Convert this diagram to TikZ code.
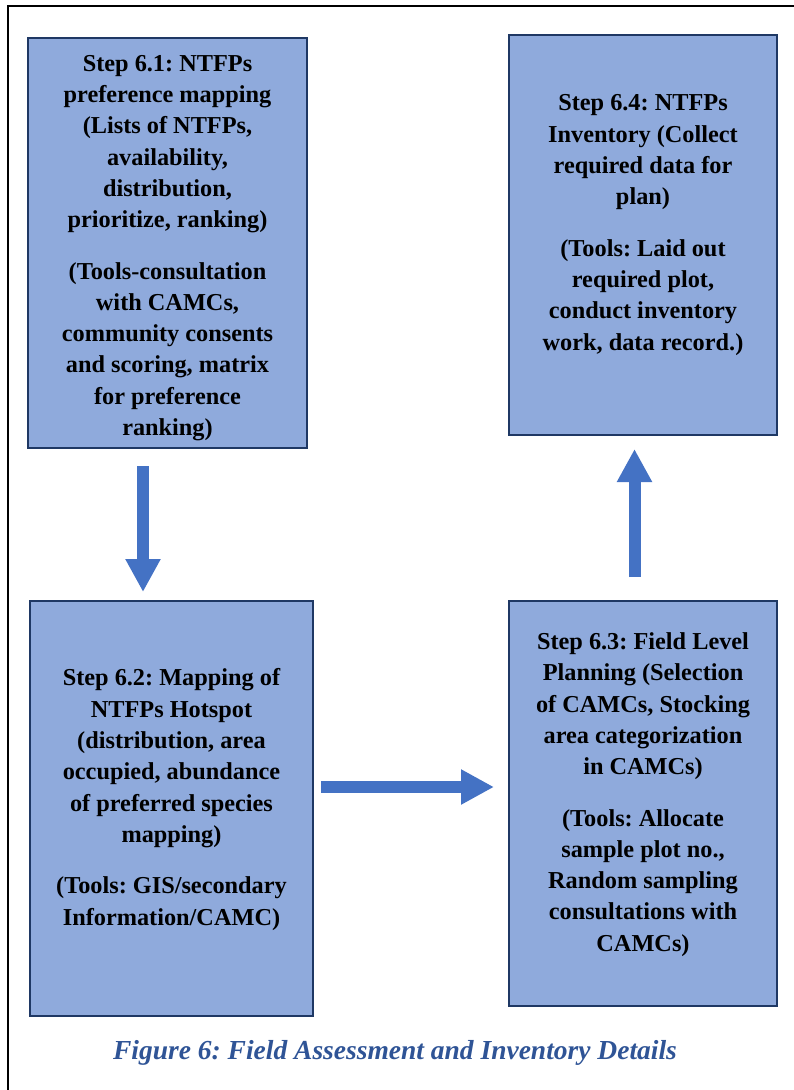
\documentclass[tikz,border=0pt]{standalone}
\usepackage{fontspec}
\setmainfont{Liberation Serif}
\usepackage{xcolor}
\usetikzlibrary{arrows.meta}
\definecolor{boxfill}{HTML}{8FAADC}
\definecolor{boxline}{HTML}{1F3864}
\definecolor{arrowblue}{HTML}{4472C4}
\definecolor{captionblue}{HTML}{2F5496}
\frenchspacing

\begin{document}
\begin{tikzpicture}[x=1pt,y=-1pt,
		stepbox/.style={draw=boxline,fill=boxfill,line width=2pt,inner sep=0pt},
		steptext/.style={align=center,inner sep=0pt,font=\bfseries\fontsize{24.3}{31.3}\selectfont},
		flowarrow/.style={arrowblue,line width=12pt,-{Triangle[length=33pt,width=33pt]}}]
		\useasboundingbox (0,0) rectangle (793,1090);
		\draw[line width=1.5pt] (8,1100) -- (8,6) -- (800,6);
		\node[stepbox,minimum width=279pt,minimum height=410pt] (s1) at (167.5,243) {};
		\node[stepbox,minimum width=283pt,minimum height=415pt] (s2) at (171.5,808.5) {};
		\node[stepbox,minimum width=268pt,minimum height=405pt] (s3) at (643,803.5) {};
		\node[stepbox,minimum width=268pt,minimum height=400pt] (s4) at (643,235) {};
		\node[steptext] (t1) at ([yshift=-5pt]s1.center) {Step 6.1: NTFPs\\preference mapping\\(Lists of NTFPs,\\availability,\\distribution,\\prioritize, ranking)\\[20pt](Tools-consultation\\with CAMCs,\\community consents\\and scoring, matrix\\for preference\\ranking)};
		\node[steptext] (t2) at ([yshift=9pt]s2.center) {Step 6.2: Mapping of\\NTFPs Hotspot\\(distribution, area\\occupied, abundance\\of preferred species\\mapping)\\[20pt](Tools: GIS/secondary\\Information/CAMC)};
		\node[steptext] (t3) at ([yshift=9pt]s3.center) {Step 6.3: Field Level\\Planning (Selection\\of CAMCs, Stocking\\area categorization\\in CAMCs)\\[20pt](Tools: Allocate\\sample plot no.,\\Random sampling\\consultations with\\CAMCs)};
		\node[steptext] (t4) at ([yshift=10pt]s4.center) {Step 6.4: NTFPs\\Inventory (Collect\\required data for\\plan)\\[20pt](Tools: Laid out\\required plot,\\conduct inventory\\work, data record.)};
		\draw[flowarrow] ([xshift=-24.5pt,yshift=-17pt]s1.south) -- ([xshift=-28.5pt,yshift=8pt]s2.north);
		\draw[flowarrow] ([xshift=7pt,yshift=21.5pt]s2.east) -- ([xshift=-14pt,yshift=16.5pt]s3.west);
		\draw[flowarrow] ([xshift=-8.5pt,yshift=23pt]s3.north) -- ([xshift=-8.5pt,yshift=-13pt]s4.south);
		\node[text=captionblue,font=\bfseries\itshape\fontsize{27.5}{30}\selectfont] (cap) at (395,1053) {Figure 6: Field Assessment and Inventory Details};
	\end{tikzpicture}
\end{document}
